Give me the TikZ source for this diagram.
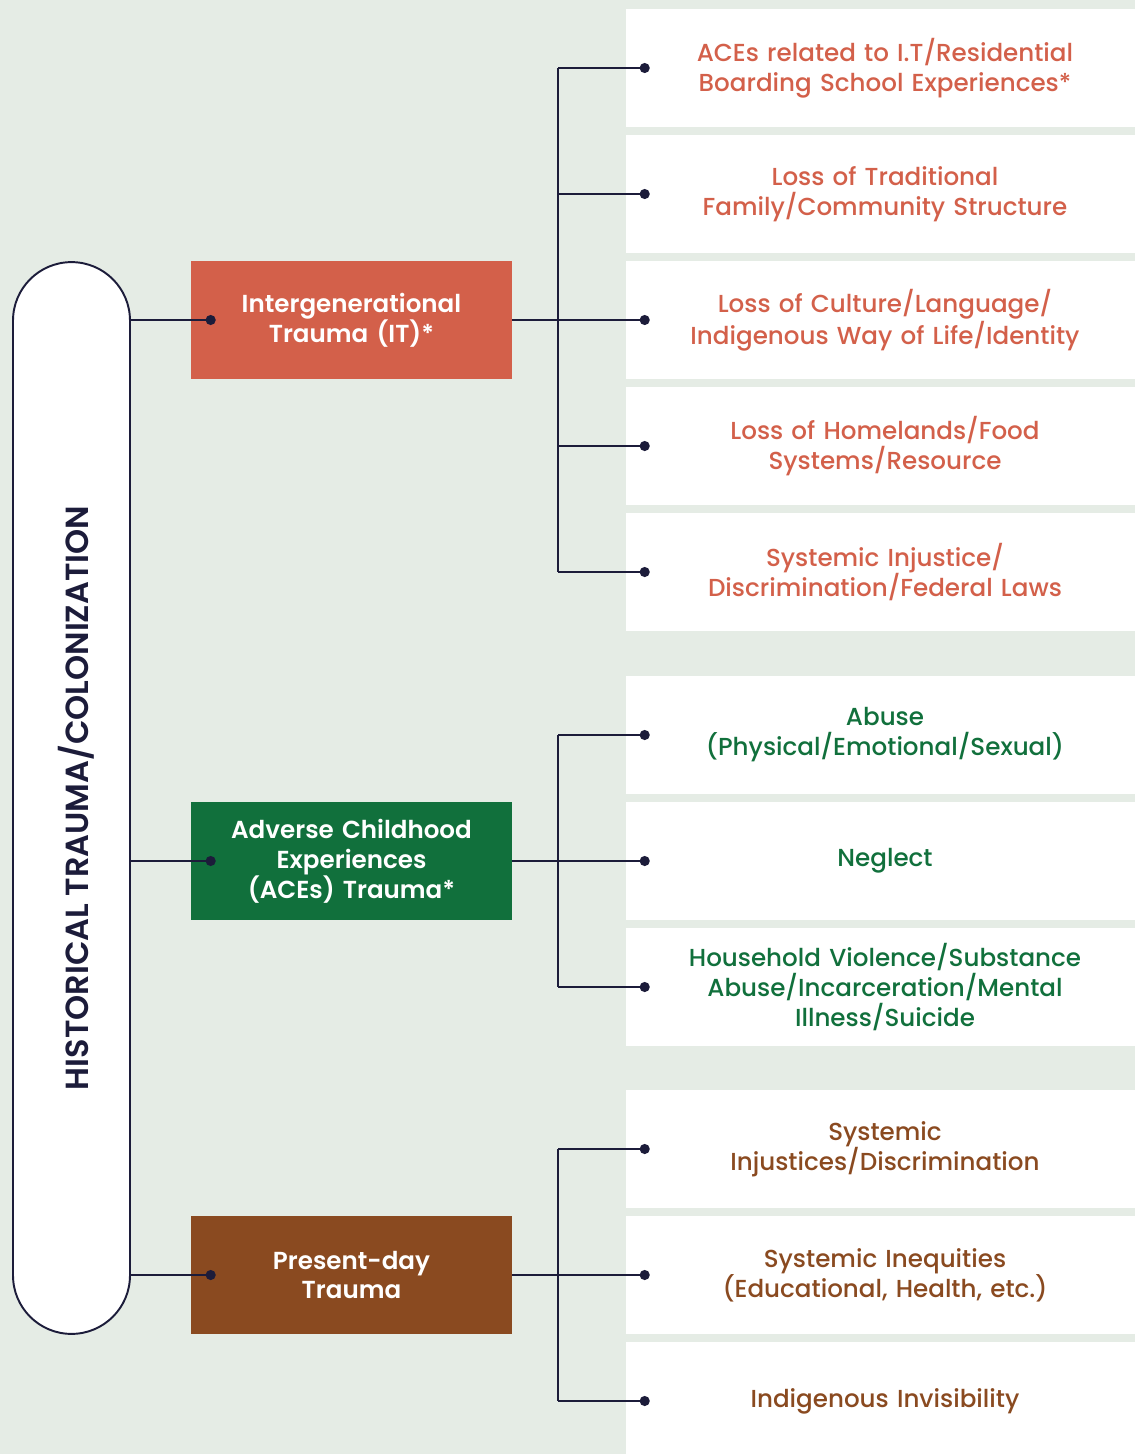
\documentclass[tikz,border=0pt]{standalone}
\usepackage{fontspec}
\setmainfont{Poppins}[UprightFont=* Medium, BoldFont=* SemiBold]
\usetikzlibrary{arrows.meta,positioning}

\definecolor{bgpale}{HTML}{E5ECE5}
\definecolor{navy}{HTML}{1C1C3A}
\definecolor{itred}{HTML}{D3604A}
\definecolor{acegreen}{HTML}{11703C}
\definecolor{presbrown}{HTML}{8A4A20}

\tikzset{
  cat/.style={minimum width=6.42cm, minimum height=2.36cm, text width=6.2cm,
    align=center, text=white, inner sep=0pt,
    font=\fontsize{14}{17}\selectfont\bfseries},
  item/.style={fill=white, minimum width=10.36cm, minimum height=2.36cm,
    text width=9.8cm, align=center, inner sep=0pt,
    font=\fontsize{14}{17}\selectfont},
  link/.style={draw=navy, line width=1.1pt},
  dotlink/.style={link, -{Circle[length=0.2cm]}},
}

\begin{document}
\begin{tikzpicture}[x=0.02cm, y=-0.02cm]
  \fill[bgpale] (0,0) rectangle (1135,1454);
  \useasboundingbox (0,0) rectangle (1135,1454);

  % left pill with the rotated title
  \node[draw=navy, line width=1.1pt, fill=white, rounded corners=1.17cm,
        minimum width=2.34cm, minimum height=21.44cm] (pill) at (71.5,798) {};
  \node[rotate=90, text=navy, font=\fontsize{18.2}{22}\selectfont\bfseries]
        (title) at ([xshift=0.1cm]pill.center) {HISTORICAL TRAUMA/COLONIZATION};

  % the three kinds of trauma
  \node[cat, fill=itred] (it) at (351.5,320) {Intergenerational\\Trauma (IT)*};
  \node[cat, fill=acegreen] (ace) at (351.5,861) {Adverse Childhood\\Experiences\\(ACEs) Trauma*};
  \node[cat, fill=presbrown] (pres) at (351.5,1275) {Present-day\\Trauma};

  % IT items
  \node[item, text=itred] (it1) at (885,68) {ACEs related to I.T/Residential\\Boarding School Experiences*};
  \node[item, text=itred] (it2) at (885,194) {Loss of Traditional\\Family/Community Structure};
  \node[item, text=itred] (it3) at (885,320) {Loss of Culture/Language/\\Indigenous Way of Life/Identity};
  \node[item, text=itred] (it4) at (885,446) {Loss of Homelands/Food\\Systems/Resource};
  \node[item, text=itred] (it5) at (885,572) {Systemic Injustice/\\Discrimination/Federal Laws};

  % ACEs items
  \node[item, text=acegreen] (ace1) at (885,735) {Abuse\\(Physical/Emotional/Sexual)};
  \node[item, text=acegreen] (ace2) at (885,861) {Neglect};
  \node[item, text=acegreen] (ace3) at (885,987) {Household Violence/Substance\\Abuse/Incarceration/Mental\\Illness/Suicide};

  % present-day items
  \node[item, text=presbrown] (pres1) at (885,1149) {Systemic\\Injustices/Discrimination};
  \node[item, text=presbrown] (pres2) at (885,1275) {Systemic Inequities\\(Educational, Health, etc.)};
  \node[item, text=presbrown] (pres3) at (885,1401) {Indigenous Invisibility};

  \coordinate (bus) at (558,0);

  % pill to categories
  \foreach \c in {it,ace,pres}
    \draw[dotlink] (pill.east |- \c.west) -- ([xshift=0.5cm]\c.west);

  % category to its items
  \draw[link] (it1.west -| bus) -- (it5.west -| bus);
  \draw[link] (ace1.west -| bus) -- (ace3.west -| bus);
  \draw[link] (pres1.west -| bus) -- (pres3.west -| bus);
  \draw[link] (it.east) -- (bus |- it.east);
  \draw[link] (ace.east) -- (bus |- ace.east);
  \draw[link] (pres.east) -- (bus |- pres.east);
  \foreach \i in {it1,it2,it3,it4,it5,ace1,ace2,ace3,pres1,pres2,pres3}
    \draw[dotlink] (bus |- \i.west) -- ([xshift=0.48cm]\i.west);
\end{tikzpicture}
\end{document}
